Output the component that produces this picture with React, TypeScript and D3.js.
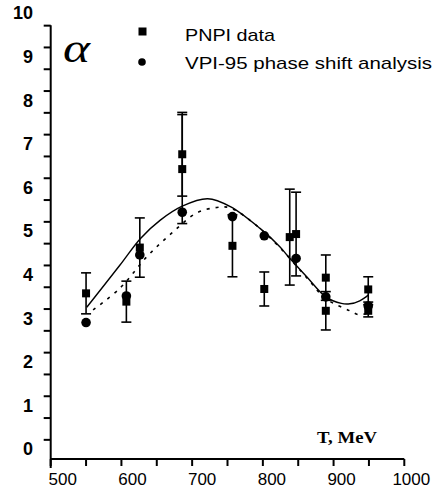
import React from 'react';
import * as d3 from 'd3';

// ---- data ----
const xTickValues = [500, 550, 600, 650, 700, 750, 800, 850, 900, 950, 1000];
const xLabelValues = [500, 600, 700, 800, 900, 1000];
const yLabelValues = [0, 1, 2, 3, 4, 5, 6, 7, 8, 9, 10];
const yTickValues = [0.21, 0.71, 1.21, 1.71, 2.21, 2.71, 3.21, 3.71, 4.21, 4.71, 5.21, 5.71, 6.21, 6.71, 7.21, 7.71, 8.21, 8.71, 9.21, 9.71];

const pnpiT = [550, 607, 626, 686, 686, 757, 802, 838, 847, 889, 889, 949, 949];
const pnpiAlpha = [3.57, 3.38, 4.62, 6.76, 6.42, 4.66, 3.67, 4.86, 4.93, 3.93, 3.17, 3.66, 3.17];
const pnpiErr = [0.47, 0.47, 0.68, 0.96, 1.25, 0.71, 0.39, 1.1, 0.96, 0.52, 0.44, 0.29, 0.14];

const vpiT = [550, 607, 626, 686, 757, 802, 847, 889, 949];
const vpiAlpha = [2.9, 3.51, 4.45, 5.43, 5.33, 4.89, 4.37, 3.49, 3.28];

const solidT = [551, 598, 627, 655, 686, 722, 754, 796, 824, 834, 862, 889, 911, 923, 937, 949];
const solidAlpha = [3.25, 4.22, 4.83, 5.25, 5.57, 5.74, 5.56, 5.06, 4.64, 4.45, 3.95, 3.49, 3.34, 3.33, 3.4, 3.53];

const dotT = [560, 598, 636, 671, 706, 735, 754, 790, 824, 862, 889, 923, 936, 949];
const dotAlpha = [3.19, 3.69, 4.41, 4.95, 5.41, 5.54, 5.53, 5.14, 4.62, 3.93, 3.45, 3.17, 3.08, 3.12];

const legendItems = ['PNPI data', 'VPI-95 phase shift analysis'];
const xTitle = 'T, MeV';
const yTitle = 'α';

export default function App() {
  const W = 435;
  const H = 490;
  const x = d3.scaleLinear().domain([500, 1000]).range([50.7, 404.3]);
  const y = d3.scaleLinear().domain([0, 10]).range([449, 13]);
  const axisY = y(-0.23);
  const axisX = x(500);

  const line = d3
    .line<[number, number]>()
    .x((d) => x(d[0]))
    .y((d) => y(d[1]))
    .curve(d3.curveCatmullRom.alpha(0.5));

  const solidPts = solidT.map((t, i) => [t, solidAlpha[i]] as [number, number]);
  const dotPts = dotT.map((t, i) => [t, dotAlpha[i]] as [number, number]);

  const sq = 8;
  const cap = 5;
  const sans = '"Liberation Sans", Arial, sans-serif';
  const serif = '"Liberation Serif", "Times New Roman", serif';

  return (
    <svg
      width={W}
      height={H}
      viewBox={`0 0 ${W} ${H}`}
      style={{ position: 'absolute', left: 0, top: 0, background: '#fff' }}
    >
      <rect x={0} y={0} width={W} height={H} fill="#fff" />

      {/* y axis */}
      <line x1={axisX} x2={axisX} y1={y(9.72)} y2={axisY + 9} stroke="#000" strokeWidth={2} />
      {yTickValues.map((v) => (
        <line key={'yt' + v} x1={axisX - 7} x2={axisX} y1={y(v)} y2={y(v)} stroke="#000" strokeWidth={2} />
      ))}
      {yLabelValues.map((v) => (
        <text
          key={'yl' + v}
          x={33}
          y={y(v)}
          dy="0.36em"
          textAnchor="end"
          fontFamily={sans}
          fontWeight="bold"
          fontSize={18}
          fill="#000"
        >
          {v}
        </text>
      ))}

      {/* x axis */}
      <line x1={axisX} x2={x(1000)} y1={axisY} y2={axisY} stroke="#000" strokeWidth={2} />
      {xTickValues.map((v) => (
        <line key={'xt' + v} x1={x(v)} x2={x(v)} y1={axisY} y2={axisY + 7} stroke="#000" strokeWidth={2} />
      ))}
      {xLabelValues.map((v) => (
        <text
          key={'xl' + v}
          x={x(v) + 12 - (v - 500) * 0.01}
          y={485}
          textAnchor="middle"
          fontFamily={sans}
          fontSize={17}
          fill="#000"
        >
          {v}
        </text>
      ))}

      {/* titles */}
      <text x={63} y={62} fontFamily={serif} fontStyle="italic" fontSize={42} textLength={27} lengthAdjust="spacingAndGlyphs" fill="#000">
        {yTitle}
      </text>
      <text x={317} y={443} fontFamily={serif} fontWeight="bold" fontSize={16} textLength={60} lengthAdjust="spacingAndGlyphs" fill="#000">
        {xTitle}
      </text>

      {/* error bars */}
      {pnpiT.map((t, i) => {
        const cx = x(t);
        const y1 = y(pnpiAlpha[i] + pnpiErr[i]);
        const y2 = y(pnpiAlpha[i] - pnpiErr[i]);
        return (
          <g key={'eb' + i} stroke="#000" strokeWidth={1.6}>
            <line x1={cx} x2={cx} y1={y1} y2={y2} />
            <line x1={cx - cap} x2={cx + cap} y1={y1} y2={y1} />
            <line x1={cx - cap} x2={cx + cap} y1={y2} y2={y2} />
          </g>
        );
      })}

      {/* curves */}
      <path d={line(solidPts) || ''} fill="none" stroke="#000" strokeWidth={1.4} />
      <path d={line(dotPts) || ''} fill="none" stroke="#000" strokeWidth={1.6} strokeDasharray="3,6" />

      {/* markers */}
      {pnpiT.map((t, i) => (
        <rect key={'sq' + i} x={x(t) - sq / 2} y={y(pnpiAlpha[i]) - sq / 2} width={sq} height={sq} fill="#000" />
      ))}
      {vpiT.map((t, i) => (
        <circle key={'c' + i} cx={x(t)} cy={y(vpiAlpha[i])} r={4.8} fill="#000" />
      ))}

      {/* legend */}
      <rect x={138.5} y={27.5} width={8} height={8} fill="#000" />
      <text x={185} y={41} fontFamily={sans} fontSize={17} textLength={90} lengthAdjust="spacingAndGlyphs" fill="#000">
        {legendItems[0]}
      </text>
      <circle cx={142} cy={62} r={3.8} fill="#000" />
      <text x={185} y={68.5} fontFamily={sans} fontSize={17} textLength={247} lengthAdjust="spacingAndGlyphs" fill="#000">
        {legendItems[1]}
      </text>
    </svg>
  );
}
